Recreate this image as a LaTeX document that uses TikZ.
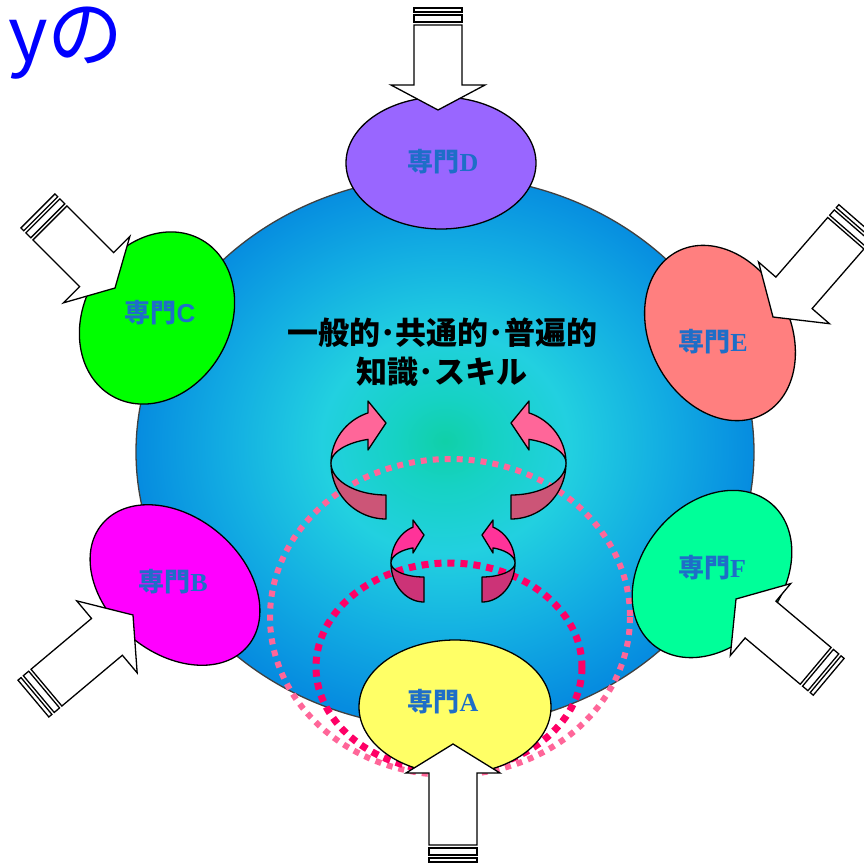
\documentclass[tikz,border=0pt]{standalone}
\usepackage{fontspec}
\newfontfamily\jp{Noto Sans CJK JP}
\newfontfamily\lserif{Liberation Serif}
\newfontfamily\lsans{Liberation Sans}
\definecolor{ballgreen}{HTML}{10D0A8}
\definecolor{ballteal}{HTML}{16D2C4}
\definecolor{ballcyan}{HTML}{22D0E0}
\definecolor{ballmid}{HTML}{12ACE2}
\definecolor{ballblue}{HTML}{068CE0}
\definecolor{dotlight}{HTML}{FF6699}
\definecolor{dotdark}{HTML}{FF0066}
\definecolor{bigup}{HTML}{FF6699}
\definecolor{biglow}{HTML}{CC5577}
\definecolor{smallup}{HTML}{FF3399}
\definecolor{smalllow}{HTML}{CC3377}
\definecolor{labelblue}{RGB}{30,110,200}
\definecolor{colA}{HTML}{FFFF66}
\definecolor{colB}{HTML}{FF00FF}
\definecolor{colC}{HTML}{00FF00}
\definecolor{colD}{HTML}{9966FF}
\definecolor{colE}{HTML}{FF7F7F}
\definecolor{colF}{HTML}{00FF99}
\pgfdeclareradialshading{ballshade}{\pgfpoint{0bp}{1bp}}{color(0bp)=(ballgreen); color(4bp)=(ballteal); color(10bp)=(ballcyan); color(18bp)=(ballmid); color(25bp)=(ballblue); color(50bp)=(ballblue)}
\tikzset{
  blockline/.style={draw=black, fill=white, line width=1.3pt, line join=miter},
  ribbonline/.style={draw=black, line width=1.3pt, line join=round},
  specialist/.style={draw=black, line width=1.3pt},
  speclabel/.style={text=labelblue, font=\fontsize{26}{30}\selectfont, inner sep=0pt},
}
\newcommand\blockarrow[5]{%
  \begin{scope}[shift={(#1,#2)}, rotate=#3]
    \draw[blockline] (0,0) -- (-#4,47) -- (-#4,24) -- ({-#4-#5},24) -- ({-#4-#5},-24) -- (-#4,-24) -- (-#4,-47) -- cycle;
    \draw[blockline] ({-#4-#5-3},-24) rectangle ({-#4-#5-10},24);
    \draw[blockline] ({-#4-#5-13},-24) rectangle ({-#4-#5-17},24);
  \end{scope}}
\newcommand\senmon[1]{{\jp\bfseries 専門}{\lserif\bfseries #1}}
\begin{document}
\begin{tikzpicture}[x=1pt,y=-1pt]
\useasboundingbox (0,0) rectangle (864,865);
% title fragment
\node[anchor=base east, inner sep=0pt, text=blue, text height=54pt, text depth=16pt, font=\jp\fontsize{76}{78}\selectfont] (title) at (124,61) {yの};
% ball
\shadedraw[shading=ballshade, draw=black!75, line width=1.3pt] (445,452) ellipse [x radius=309, y radius=276];
% dotted circles
\draw[draw=dotlight, line width=6pt, dash pattern=on 6pt off 6pt] (450,617) ellipse [x radius=180, y radius=158];
\draw[draw=dotdark, line width=7pt, dash pattern=on 7pt off 6pt] (449,667) ellipse [x radius=133, y radius=104];
% ribbon arrows (left) and mirrored (right)
\foreach \mir in {0,1}{
\begin{scope}[shift={(\mir*897,0)}, xscale={1-2*\mir}]
  \draw[ribbonline, fill=biglow] plot[domain=180:90, samples=30] ({386+55*cos(\x)},{463+56*sin(\x)}) -- (386,495) -- plot[domain=90:180, samples=30] ({386+55*cos(\x)},{463+32*sin(\x)}) -- cycle;
  \draw[ribbonline, fill=bigup] plot[domain=180:251, samples=30] ({386+55*cos(\x)},{463+53*sin(\x)}) -- (368,401) -- (386,423) -- (368,450) -- plot[domain=251:180, samples=30] ({386+55*cos(\x)},{463+25*sin(\x)}) -- cycle;
\end{scope}
\begin{scope}[shift={(\mir*906,0)}, xscale={1-2*\mir}]
  \draw[ribbonline, fill=smalllow] plot[domain=180:90, samples=30] ({424+33*cos(\x)},{563+39*sin(\x)}) -- (424,577) -- plot[domain=90:180, samples=30] ({424+33*cos(\x)},{563+14*sin(\x)}) -- cycle;
  \draw[ribbonline, fill=smallup] plot[domain=180:250.5, samples=30] ({424+33*cos(\x)},{563+38*sin(\x)}) -- (413,520) -- (424,535) -- (413,553) -- plot[domain=250.5:180, samples=30] ({424+33*cos(\x)},{563+16*sin(\x)}) -- cycle;
\end{scope}
}
% central text
\node[align=center, font=\jp\bfseries\fontsize{31}{39}\selectfont, inner sep=0pt] (core) at (442,352) {一般的･共通的･普遍的\\知識･スキル};
% specialist ellipses
\draw[specialist, fill=colD] (441,163) ellipse [x radius=95, y radius=66];
\node[speclabel] (labD) at (443,162) {\senmon{D}};
\draw[specialist, fill=colC, rotate around={60:(157,318)}] (157,318) ellipse [x radius=90, y radius=73];
\node[speclabel] (labC) at (160,313) {{\jp\bfseries 専門}{\lsans\bfseries C}};
\draw[specialist, fill=colE, rotate around={-62:(720,333)}] (720,333) ellipse [x radius=92, y radius=70];
\node[speclabel] (labE) at (713,342) {\senmon{E}};
\draw[specialist, fill=colB, rotate around={-40:(175,585)}] (175,585) ellipse [x radius=95, y radius=68];
\node[speclabel] (labB) at (173,582) {\senmon{B}};
\draw[specialist, fill=colF, rotate around={50:(712,574)}] (712,574) ellipse [x radius=92, y radius=70];
\node[speclabel] (labF) at (712,568) {\senmon{F}};
\draw[specialist, fill=colA] (455,707) ellipse [x radius=96, y radius=67];
\node[speclabel] (labA) at (443,702) {\senmon{A}};
% block arrows
\blockarrow{438}{110}{-90}{25}{60}
\blockarrow{453}{744}{90}{29}{72}
\blockarrow{115}{288}{-45}{26}{66}
\blockarrow{773}{317}{-131}{32}{79}
\blockarrow{736}{599}{140}{32}{72}
\blockarrow{133}{615}{40}{34}{79}
\end{tikzpicture}
\end{document}
